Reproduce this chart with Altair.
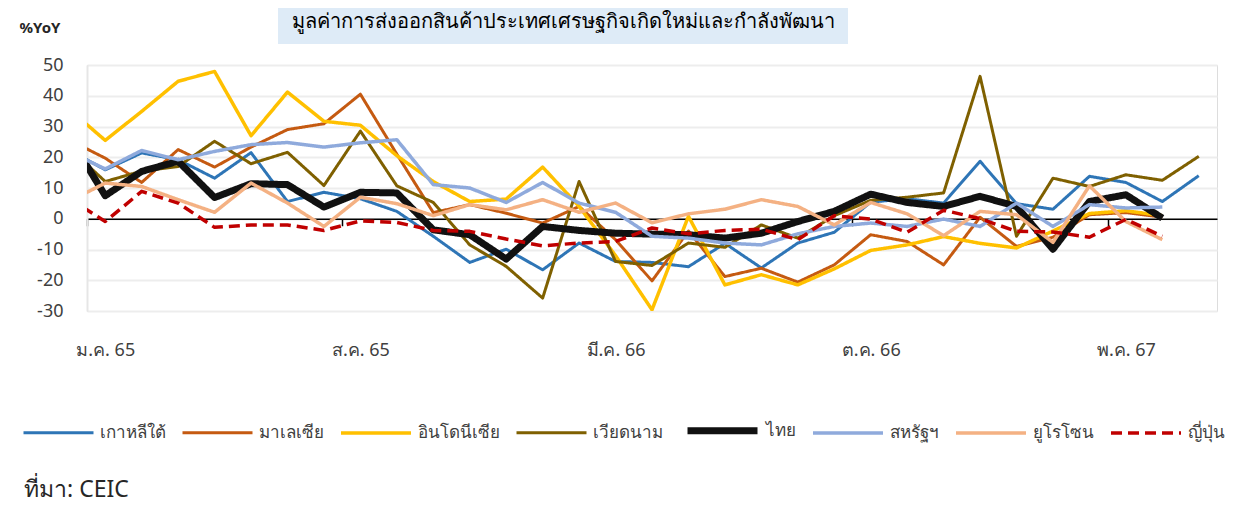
import altair as alt
import pandas as pd

# Months: Dec 64 (partly visible at left edge) ... Jul 67
months = ["ธ.ค. 64", "ม.ค. 65", "ก.พ. 65", "มี.ค. 65", "เม.ย. 65", "พ.ค. 65", "มิ.ย. 65", "ก.ค. 65",
          "ส.ค. 65", "ก.ย. 65", "ต.ค. 65", "พ.ย. 65", "ธ.ค. 65", "ม.ค. 66", "ก.พ. 66", "มี.ค. 66",
          "เม.ย. 66", "พ.ค. 66", "มิ.ย. 66", "ก.ค. 66", "ส.ค. 66", "ก.ย. 66", "ต.ค. 66", "พ.ย. 66",
          "ธ.ค. 66", "ม.ค. 67", "ก.พ. 67", "มี.ค. 67", "เม.ย. 67", "พ.ค. 67", "มิ.ย. 67", "ก.ค. 67"]
label_months = ["ม.ค. 65", "ส.ค. 65", "มี.ค. 66", "ต.ค. 66", "พ.ค. 67"]

korea = [22.5, 15.9, 21.4, 19.2, 13.2, 21.5, 5.6, 8.6, 6.5, 2.4, -5.7, -14.2, -9.9, -16.6, -7.9, -13.9,
         -14.2, -15.6, -8.0, -16.0, -7.9, -4.4, 5.4, 6.5, 5.1, 18.7, 4.9, 3.1, 13.8, 11.8, 5.6, 14.0]
malaysia = [25.7, 19.7, 11.8, 22.5, 16.8, 23.3, 29.0, 30.9, 40.5, 21.0, 2.0, 4.6, 1.8, -1.4, 4.0, -6.8,
            -20.2, -4.0, -18.8, -16.1, -20.6, -15.0, -5.2, -7.4, -15.0, 0.5, -9.0, -6.0, 1.3, 2.0, 0.5, None]
indonesia = [35.7, 25.5, 34.9, 44.7, 47.9, 27.0, 41.2, 31.7, 30.4, 20.5, 12.1, 5.6, 6.4, 16.8, 4.0, -12.0,
             -29.6, 0.8, -21.5, -18.2, -21.5, -16.3, -10.3, -8.5, -5.8, -8.0, -9.5, -4.0, 1.7, 2.6, 1.0, None]
vietnam = [23.1, 12.1, 15.5, 17.0, 25.2, 17.9, 21.6, 10.8, 28.5, 10.7, 5.3, -8.5, -15.5, -25.8, 12.1, -13.9,
           -15.2, -7.9, -9.3, -2.0, -6.3, 1.0, 6.0, 7.0, 8.4, 46.3, -5.7, 13.2, 10.5, 14.3, 12.5, 20.3]
thailand = [26.9, 7.5, 15.4, 18.7, 6.9, 11.4, 11.1, 3.8, 8.6, 8.4, -3.6, -5.2, -13.1, -2.5, -3.8, -4.7,
            -5.0, -5.2, -6.3, -4.7, -0.9, 2.4, 8.0, 5.3, 4.0, 7.3, 4.0, -9.9, 5.6, 7.8, 0.2, None]
usa = [21.8, 16.2, 22.2, 19.2, 21.9, 24.1, 24.8, 23.3, 24.7, 25.7, 11.1, 10.0, 5.3, 11.8, 5.1, 2.1,
       -5.7, -6.3, -7.9, -8.5, -4.9, -2.5, -1.4, -2.5, -0.1, -2.5, 5.1, -2.5, 4.6, 3.5, 3.8, None]
euro = [5.6, 11.6, 10.5, 6.2, 2.1, 11.6, 5.1, -2.5, 7.0, 4.9, 1.0, 4.6, 2.9, 6.2, 2.1, 5.1,
        -1.3, 1.6, 3.1, 6.2, 4.0, -2.0, 5.3, 1.6, -5.5, 2.4, 1.3, -7.7, 10.7, -0.9, -6.8, None]
japan = [6.7, -0.9, 8.9, 5.1, -2.8, -2.0, -2.0, -3.8, -0.7, -1.2, -3.8, -4.1, -6.6, -8.8, -7.9, -7.4,
         -3.0, -4.9, -3.8, -3.4, -6.8, 1.0, -0.1, -4.4, 2.8, 0.0, -4.1, -4.3, -6.0, -0.2, -5.7, None]

names = ["เกาหลีใต้", "มาเลเซีย", "อินโดนีเซีย", "เวียดนาม", "ไทย", "สหรัฐฯ", "ยูโรโซน", "ญี่ปุ่น"]
series = [korea, malaysia, indonesia, vietnam, thailand, usa, euro, japan]
colors = ["#2E75B6", "#C55A11", "#FFC000", "#7F6000", "#111111", "#8FAADC", "#F4B183", "#C00000"]
widths = [3, 3, 3.5, 3, 7, 3.5, 3.5, 3.5]
dashes = [[1, 0]] * 7 + [[11, 6]]

title_text = "มูลค่าการส่งออกสินค้าประเทศเศรษฐกิจเกิดใหม่และกำลังพัฒนา"
unit_text = "%YoY"
source_text = "ที่มา: CEIC"

rows = []
for name, vals in zip(names, series):
    for k, v in enumerate(vals):
        if v is not None:
            rows.append({"series": name, "pos": k - 1, "month": months[k], "value": v})
df = pd.DataFrame(rows)

W, H = 1130, 246
YMIN, YMAX = -30, 50
zero_px = H * YMAX / (YMAX - YMIN)

label_pos = [months.index(m) - 1 for m in label_months]
expr = "''"
for p, m in reversed(list(zip(label_pos, label_months))):
    expr = f"datum.value == {p} ? '{m}' : ({expr})"

xscale = alt.Scale(domain=[-0.5, len(months) - 1.5], nice=False, zero=False)
FONT = "Noto Sans"

leg = alt.Legend(title=None, orient="none", legendX=-65, legendY=327, direction="horizontal",
                 symbolType="stroke", symbolSize=4900, labelFontSize=17, labelColor="#404040",
                 labelOffset=5, columnPadding=10, labelFont=FONT, labelLimit=200)

lines = alt.Chart(df).mark_line(clip=True, strokeJoin="round").encode(
    x=alt.X("pos:Q", scale=xscale,
            axis=alt.Axis(values=label_pos, labelExpr=expr, ticks=False, domain=False, grid=False,
                          labelFontSize=18, labelColor="#404040", labelPadding=30, title=None,
                          labelFont=FONT)),
    y=alt.Y("value:Q", scale=alt.Scale(domain=[YMIN, YMAX], nice=False),
            axis=alt.Axis(values=list(range(YMIN, YMAX + 1, 10)), ticks=False, domain=True,
                          domainColor="#E6E6E6", domainWidth=2, grid=True, gridColor="#EDEDED",
                          gridWidth=2, labelFontSize=18, labelColor="#404040", labelPadding=24,
                          title=None, labelFont=FONT,
                          labelExpr="replace(datum.label, '\u2212', '-')")),
    color=alt.Color("series:N", sort=names, scale=alt.Scale(domain=names, range=colors), legend=leg),
    strokeWidth=alt.StrokeWidth("series:N", sort=names,
                                scale=alt.Scale(type="ordinal", domain=names, range=widths),
                                legend=leg),
    strokeDash=alt.StrokeDash("series:N", sort=names, scale=alt.Scale(domain=names, range=dashes),
                              legend=leg),
)

tick_df = pd.DataFrame({"pos": [p - 0.5 for p in label_pos]})
zero_axis = alt.Chart(tick_df).mark_point(opacity=0).encode(
    x=alt.X("pos:Q", scale=xscale,
            axis=alt.Axis(orient="bottom", offset=-(H - zero_px), values=list(tick_df["pos"]),
                          labels=False, ticks=True, tickSize=7, tickColor="black", tickWidth=1.5,
                          domain=True, domainColor="black", domainWidth=1.5, grid=False, title=None)),
)

one = pd.DataFrame({"t": [title_text], "u": [unit_text], "s": [source_text]})
title_box = alt.Chart(one).mark_rect(color="#DEEBF7").encode(
    x=alt.value(191), x2=alt.value(761), y=alt.value(-65), y2=alt.value(-21))
title = alt.Chart(one).mark_text(fontSize=20, font=FONT, color="black", align="center",
                                 baseline="middle").encode(text="t:N", x=alt.value(476), y=alt.value(-43))
unit = alt.Chart(one).mark_text(fontSize=15, font=FONT, fontWeight="bold", color="#262626",
                                align="center", baseline="middle").encode(
    text="u:N", x=alt.value(-47), y=alt.value(-37))
source = alt.Chart(one).mark_text(fontSize=23, font=FONT, color="#262626", align="left",
                                  baseline="middle").encode(text="s:N", x=alt.value(-63), y=alt.value(425))

chart = alt.layer(lines, zero_axis, title_box, title, unit, source).resolve_axis(
    x="independent").properties(
    width=W, height=H,
    autosize=alt.AutoSizeParams(type="none"),
    padding={"left": 79, "top": 57, "right": 17, "bottom": 192},
).configure_view(stroke=None).configure(font=FONT)

chart.save("out.html", embed_options={"renderer": "svg", "actions": False})
